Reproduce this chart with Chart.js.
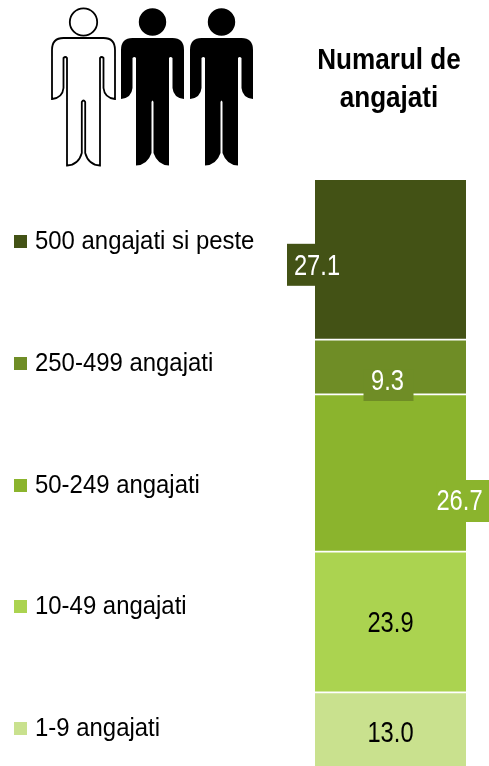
<!DOCTYPE html>
<html><head><meta charset="utf-8">
<style>html,body{margin:0;padding:0;background:#fff}#w{position:relative;width:489px;height:766px}</style>
<script src="https://cdn.jsdelivr.net/npm/chart.js@4"></script>
</head><body><div id="w"><canvas id="c" width="489" height="766"></canvas></div>
<script>
const categories = ['1-9 angajati','10-49 angajati','50-249 angajati','250-499 angajati','500 angajati si peste'];
const values = [13.0,23.9,26.7,9.3,27.1];
const colors = ['#c9e18e','#abd350','#8bb42d','#6f8d26','#435215'];
const labelInk = ['#000000','#000000','#ffffff','#ffffff','#ffffff'];
const titleLines = ['Numarul de','angajati'];

const FONT = '"Liberation Sans",Arial,sans-serif';
// text offset relative to each segment's centre, and the backing box relative to that segment's centre
const labelShift = [[0,3.5],[0,1.5],[69,29],[-3,15],[-73.5,6.5]];
const boxShift = [null,null,[46,7,53,42],[-27,3,50,31],[-103.5,-16,28,42]];
const legendY = [729,607,486,364,242];

// condensed text: the chart's typeface is a narrow sans, so squeeze horizontally
function squeezed(ctx,text,x,y,sx){
  ctx.save();
  ctx.translate(x,y);
  ctx.scale(sx,1);
  ctx.fillText(text,0,0);
  ctx.restore();
}

function person(ctx,cx,solid){
  const gap = solid ? 1.0 : 1.7;
  ctx.beginPath();
  ctx.moveTo(cx,38);
  ctx.lineTo(cx+20,38);
  ctx.quadraticCurveTo(cx+31.5,38,cx+31.5,50);
  ctx.lineTo(cx+31.5,99);
  ctx.quadraticCurveTo(cx+21,98,cx+20,88);
  ctx.lineTo(cx+20,58);
  ctx.quadraticCurveTo(cx+18,56,cx+16.5,58);
  ctx.lineTo(cx+16.5,165.5);
  ctx.quadraticCurveTo(cx+5,165,cx+gap,153);
  ctx.lineTo(cx+gap,102);
  ctx.quadraticCurveTo(cx,99,cx-gap,102);
  ctx.lineTo(cx-gap,153);
  ctx.quadraticCurveTo(cx-5,165,cx-16.5,165.5);
  ctx.lineTo(cx-16.5,58);
  ctx.quadraticCurveTo(cx-18,56,cx-20,58);
  ctx.lineTo(cx-20,88);
  ctx.quadraticCurveTo(cx-21,98,cx-31.5,99);
  ctx.lineTo(cx-31.5,50);
  ctx.quadraticCurveTo(cx-31.5,38,cx-20,38);
  ctx.closePath();
  ctx.moveTo(cx+13.7,22);
  ctx.arc(cx,22,13.7,0,Math.PI*2);
  if(solid){ctx.fillStyle='#000';ctx.fill();}
  else{ctx.strokeStyle='#000';ctx.lineWidth=1.8;ctx.stroke();}
}

const decor = {
  id:'decor',
  afterDatasetsDraw(chart){
    const ctx = chart.ctx;
    ctx.save();
    ctx.textBaseline='middle';
    // data labels
    ctx.textAlign='center';
    chart.data.datasets.forEach((ds,i)=>{
      const el = chart.getDatasetMeta(i).data[0];
      const cx = el.x, cy = (el.y+el.base)/2;
      if(boxShift[i]){
        const b = boxShift[i];
        ctx.fillStyle = colors[i];
        ctx.fillRect(cx+b[0],cy+b[1],b[2],b[3]);
      }
      const [dx,dy] = labelShift[i];
      ctx.fillStyle = labelInk[i];
      ctx.font = '30px '+FONT;
      squeezed(ctx,values[i].toFixed(1),cx+dx,cy+dy,0.79);
    });
    // legend
    ctx.textAlign='left';
    categories.forEach((c,i)=>{
      ctx.fillStyle = colors[i];
      ctx.fillRect(14,legendY[i]-7,13,13);
      ctx.fillStyle='#000';
      ctx.font='26px '+FONT;
      squeezed(ctx,c,35,legendY[i],0.92);
    });
    // title
    ctx.textAlign='center';
    ctx.font='bold 29px '+FONT;
    ctx.fillStyle='#000';
    titleLines.forEach((t,i)=>squeezed(ctx,t,389,61+i*38,0.9));
    // icon
    person(ctx,83.5,false);
    person(ctx,152.5,true);
    person(ctx,221.5,true);
    ctx.restore();
  }
};

new Chart(document.getElementById('c'),{
  type:'bar',
  data:{
    labels:['Numarul de angajati'],
    datasets:categories.map((c,i)=>({
      label:c,
      data:[values[i]],
      backgroundColor:colors[i],
      borderColor:'#ffffff',
      borderWidth:{top:i===4?0:1.2,bottom:i===0?0:1.2,left:0,right:0},
      borderSkipped:false,
      barPercentage:1,
      categoryPercentage:1
    }))
  },
  options:{
    responsive:false,
    animation:false,
    layout:{padding:{left:315,right:23,top:180,bottom:0}},
    plugins:{legend:{display:false},title:{display:false},tooltip:{enabled:false}},
    scales:{
      x:{stacked:true,display:false},
      // the reference crops the foot of the column slightly
      y:{stacked:true,display:false,min:0.5,max:100}
    }
  },
  plugins:[decor]
});
</script></body></html>
